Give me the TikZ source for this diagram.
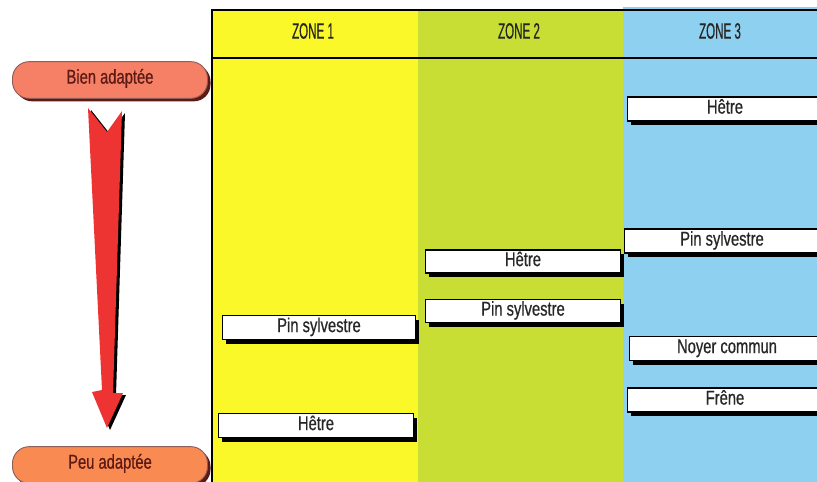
\documentclass[tikz,border=0pt]{standalone}
\usepackage{fontspec}
\setmainfont{Liberation Sans}[FakeStretch=0.74, FakeBold=0.6]
\newfontfamily\zonefont{Liberation Sans}[FakeStretch=0.52, FakeBold=0.6]
\usetikzlibrary{positioning}
\usetikzlibrary{shadows}
\definecolor{zoneA}{RGB}{250,248,40}
\definecolor{zoneB}{RGB}{200,222,52}
\definecolor{zoneC}{RGB}{142,208,240}
\definecolor{pillA}{RGB}{246,128,102}
\definecolor{pillB}{RGB}{249,138,82}
\definecolor{pilltext}{RGB}{92,26,20}
\definecolor{arrowred}{RGB}{238,52,50}
\tikzset{essence/.style={draw, fill=white, line width=1.2pt, minimum width=5.85cm, minimum height=0.72cm, inner sep=0pt, text=black!85, text height=0.84em, text depth=0.06em, font=\fontsize{17}{19}\selectfont, drop shadow={shadow xshift=0.1cm, shadow yshift=-0.13cm, fill=black, opacity=1}}}
\tikzset{pill/.style={draw=pilltext!70, line width=0.8pt, rounded corners=0.5cm, minimum width=5.85cm, minimum height=1.1cm, inner sep=0pt, text=pilltext, text height=0.76em, text depth=0.14em, font=\fontsize{17}{19}\selectfont, drop shadow={shadow xshift=0.09cm, shadow yshift=-0.09cm, fill=pilltext, opacity=1}}}
\tikzset{zonehead/.style={font=\zonefont\fontsize{19}{21}\selectfont, text=black!85}}
\tikzset{rule/.style={line width=1.4pt}}

\begin{document}
\begin{tikzpicture}[x=0.03cm, y=-0.03cm]
\useasboundingbox (0,0) rectangle (817,482);
\clip (0,0) rectangle (817,482);

% zone columns
\fill[zoneA] (212,10) rectangle (418,482);
\fill[zoneB] (418,10) rectangle (623,482);
\fill[zoneC] (623,7) rectangle (817,482);
\draw[rule] (212,482) -- (212,10) -- (817,10);
\draw[rule] (212,58) -- (817,58);

\node (zone1) [zonehead] at (313,31) {ZONE 1};
\node (zone2) [zonehead] at (519,31) {ZONE 2};
\node (zone3) [zonehead] at (720,31) {ZONE 3};

% left scale
\node (bien) [pill, fill=pillA] at (110,80) {Bien adaptée};
\node (peu) [pill, fill=pillB] at (110,465) {Peu adaptée};

\fill[black] (91,110) -- (110,134) -- (125,113) -- (116,395) -- (126,395) -- (110,430) -- (95,394) -- (105,392) -- cycle;
\fill[arrowred] (88,108) -- (107,132) -- (122,111) -- (113,393) -- (123,393) -- (107,428) -- (92,392) -- (102,390) -- cycle;

% zone 1
\node (pinA) [essence, minimum width=5.8cm] at (319,327.5) {Pin sylvestre};
\node (hetreA) [essence] at (316,425.5) {Hêtre};

% zone 2
\node (hetreB) [essence, minimum height=0.69cm] at (523,261.5) {Hêtre};
\node (pinB) [essence, minimum height=0.69cm] at (523,311) {Pin sylvestre};

% zone 3
\node (hetreC) [essence] at (725,109) {Hêtre};
\node (pinC) [essence] at (722,241) {Pin sylvestre};
\node (noyerC) [essence] at (727,348.5) {Noyer commun};
\node (freneC) [essence] at (725,400) {Frêne};
\end{tikzpicture}
\end{document}
